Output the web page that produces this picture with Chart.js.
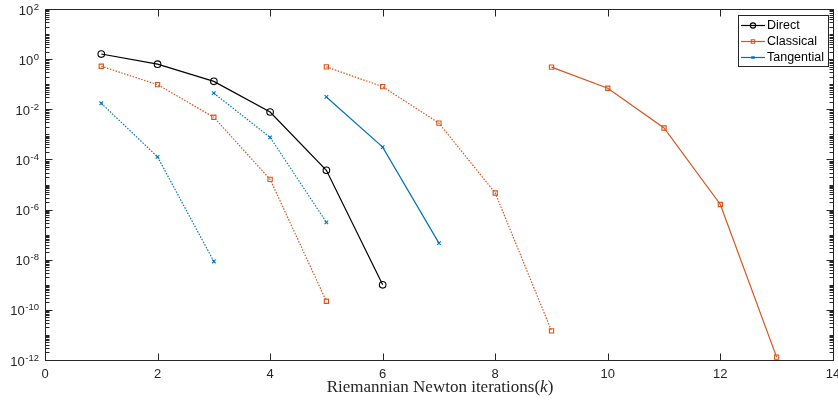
<!DOCTYPE html>
<html>
<head>
<meta charset="utf-8">
<script src="https://cdn.jsdelivr.net/npm/chart.js@4.4.1/dist/chart.umd.min.js"></script>
<style>
  html, body { margin: 0; padding: 0; background: #fff; }
</style>
</head>
<body>
<canvas id="convChart" width="838" height="402"></canvas>
<script>
// residual norm per Newton iteration, one pair of arrays per run
const directK = [1, 2, 3, 4, 5, 6];
const directRes = [1.6, 0.63, 0.13, 7.8e-3, 3.7e-5, 1.0e-9];

const classicalK1 = [1, 2, 3, 4, 5];
const classicalRes1 = [0.52, 0.096, 4.8e-3, 1.6e-5, 2.2e-10];
const classicalK2 = [5, 6, 7, 8, 9];
const classicalRes2 = [0.49, 0.08, 2.8e-3, 4.6e-6, 1.45e-11];
const classicalK3 = [9, 10, 11, 12, 13];
const classicalRes3 = [0.48, 0.069, 1.8e-3, 1.6e-6, 1.3e-12];

const tangentialK1 = [1, 2, 3];
const tangentialRes1 = [0.0174, 1.26e-4, 8.5e-9];
const tangentialK2 = [3, 4, 5];
const tangentialRes2 = [0.044, 7.6e-4, 3.1e-7];
const tangentialK3 = [5, 6, 7];
const tangentialRes3 = [0.031, 3.1e-4, 4.6e-8];

const xTicks = [0, 2, 4, 6, 8, 10, 12, 14];
const yExponents = [2, 0, -2, -4, -6, -8, -10, -12];
const legendNames = ['Direct', 'Classical', 'Tangential'];

const BLACK = '#000000';
const ORANGE = '#D95319';
const BLUE = '#0072BD';
const AXIS = '#262626';

function series(k, res) {
    return k.map((v, i) => ({ x: v, y: res[i] }));
}

function run(label, k, res, color, style, radius, dotted) {
    return {
        label: label,
        data: series(k, res),
        borderColor: color,
        backgroundColor: 'rgba(0,0,0,0)',
        borderWidth: 1.2,
        borderDash: dotted ? [1.5, 1.5] : [],
        pointStyle: style,
        pointRadius: radius,
        pointBorderWidth: 1.1,
        pointBorderColor: color,
        pointBackgroundColor: 'rgba(0,0,0,0)',
        tension: 0,
        fill: false
    };
}

const datasets = [
    run(legendNames[0], directK, directRes, BLACK, 'circle', 3.3, false),
    run(legendNames[1], classicalK1, classicalRes1, ORANGE, 'rect', 3, true),
    run(legendNames[1], classicalK2, classicalRes2, ORANGE, 'rect', 3, true),
    run(legendNames[1], classicalK3, classicalRes3, ORANGE, 'rect', 3, false),
    run(legendNames[2], tangentialK1, tangentialRes1, BLUE, 'crossRot', 2.5, true),
    run(legendNames[2], tangentialK2, tangentialRes2, BLUE, 'crossRot', 2.5, true),
    run(legendNames[2], tangentialK3, tangentialRes3, BLUE, 'crossRot', 2.5, false)
];

// box, inward ticks, tick labels, axis title and legend
const axesBox = {
    id: 'axesBox',
    afterDatasetsDraw(chart) {
        const ctx = chart.ctx;
        const a = chart.chartArea;
        const xs = chart.scales.x;
        const ys = chart.scales.y;
        const L = Math.round(a.left) + 0.5;
        const R = Math.round(a.right) + 0.5;
        const T = Math.round(a.top) + 0.5;
        const B = Math.round(a.bottom) + 0.5;

        ctx.save();
        ctx.strokeStyle = AXIS;
        ctx.lineWidth = 1;
        ctx.beginPath();

        // x ticks, top and bottom
        xTicks.forEach(v => {
            const px = Math.round(xs.getPixelForValue(v)) + 0.5;
            ctx.moveTo(px, B); ctx.lineTo(px, B - 7);
            ctx.moveTo(px, T); ctx.lineTo(px, T + 7);
        });

        // y ticks, left and right: long at labelled decades, short elsewhere
        for (let e = -12; e <= 2; e++) {
            for (let m = 1; m <= 9; m++) {
                const v = m * Math.pow(10, e);
                if (v > 100.0001) continue;
                const py = Math.round(ys.getPixelForValue(v)) + 0.5;
                if (py < T - 0.1 || py > B + 0.1) continue;
                const major = (m === 1 && yExponents.includes(e));
                const len = major ? 7 : 4;
                ctx.moveTo(L, py); ctx.lineTo(L + len, py);
                ctx.moveTo(R, py); ctx.lineTo(R - len, py);
            }
        }
        ctx.stroke();
        ctx.strokeRect(L, T, R - L, B - T);

        // x tick labels
        ctx.fillStyle = AXIS;
        ctx.font = '13px "Liberation Sans", Arial, sans-serif';
        ctx.textAlign = 'center';
        ctx.textBaseline = 'middle';
        xTicks.forEach(v => {
            ctx.fillText(String(v), xs.getPixelForValue(v), B + 14);
        });

        // y tick labels as 10 with a raised exponent
        yExponents.forEach(e => {
            const py = ys.getPixelForValue(Math.pow(10, e));
            const exp = String(e);
            ctx.font = '9.5px "Liberation Sans", Arial, sans-serif';
            const ew = ctx.measureText(exp).width;
            const right = 39;
            ctx.textAlign = 'left';
            ctx.textBaseline = 'alphabetic';
            ctx.fillText(exp, right - ew, py + 0.5);
            ctx.font = '13px "Liberation Sans", Arial, sans-serif';
            ctx.textAlign = 'right';
            ctx.textBaseline = 'middle';
            ctx.fillText('10', right - ew - 0.5, py + 2);
        });

        // axis title with italic k
        const serif = '17px "Liberation Serif", "Times New Roman", serif';
        const parts = [
            ['Riemannian Newton iterations(', serif],
            ['k', 'italic ' + serif],
            [')', serif]
        ];
        let total = 0;
        parts.forEach(p => { ctx.font = p[1]; total += ctx.measureText(p[0]).width; });
        let tx = 440 - total / 2;
        ctx.fillStyle = AXIS;
        ctx.textAlign = 'left';
        ctx.textBaseline = 'alphabetic';
        parts.forEach(p => {
            ctx.font = p[1];
            ctx.fillText(p[0], tx, 392);
            tx += ctx.measureText(p[0]).width;
        });

        // legend box
        const bx = 738.5, by = 15.5, bw = 90, bh = 51;
        ctx.fillStyle = '#ffffff';
        ctx.fillRect(bx, by, bw, bh);
        ctx.strokeStyle = AXIS;
        ctx.strokeRect(bx, by, bw, bh);
        const rows = [datasets[0], datasets[3], datasets[6]];
        const rowY = [25.5, 41.5, 57.5];
        ctx.font = '12.5px "Liberation Sans", Arial, sans-serif';
        rows.forEach((ds, i) => {
            const yy = rowY[i];
            ctx.strokeStyle = ds.borderColor;
            ctx.lineWidth = 1.2;
            ctx.setLineDash([]);
            ctx.beginPath();
            ctx.moveTo(741, yy); ctx.lineTo(765, yy);
            ctx.stroke();
            ctx.fillStyle = 'rgba(0,0,0,0)';
            ctx.lineWidth = 1.1;
            Chart.helpers.drawPoint(ctx, {
                pointStyle: ds.pointStyle,
                radius: ds.pointRadius * 0.8,
                borderWidth: 1.1,
                rotation: 0
            }, 753, yy);
            ctx.fillStyle = '#000000';
            ctx.textAlign = 'left';
            ctx.textBaseline = 'middle';
            ctx.fillText(legendNames[i], 767, yy + 0.5);
        });
        ctx.restore();
    }
};

new Chart(document.getElementById('convChart'), {
    type: 'line',
    data: { datasets: datasets },
    options: {
        responsive: false,
        animation: false,
        devicePixelRatio: 1,
        layout: { padding: { left: 45, top: 9, right: 2, bottom: 42 } },
        plugins: {
            legend: { display: false },
            tooltip: { enabled: false }
        },
        scales: {
            x: { type: 'linear', min: 0, max: 14, display: false },
            y: { type: 'logarithmic', min: 1e-12, max: 1e2, display: false }
        }
    },
    plugins: [axesBox]
});
</script>
</body>
</html>
